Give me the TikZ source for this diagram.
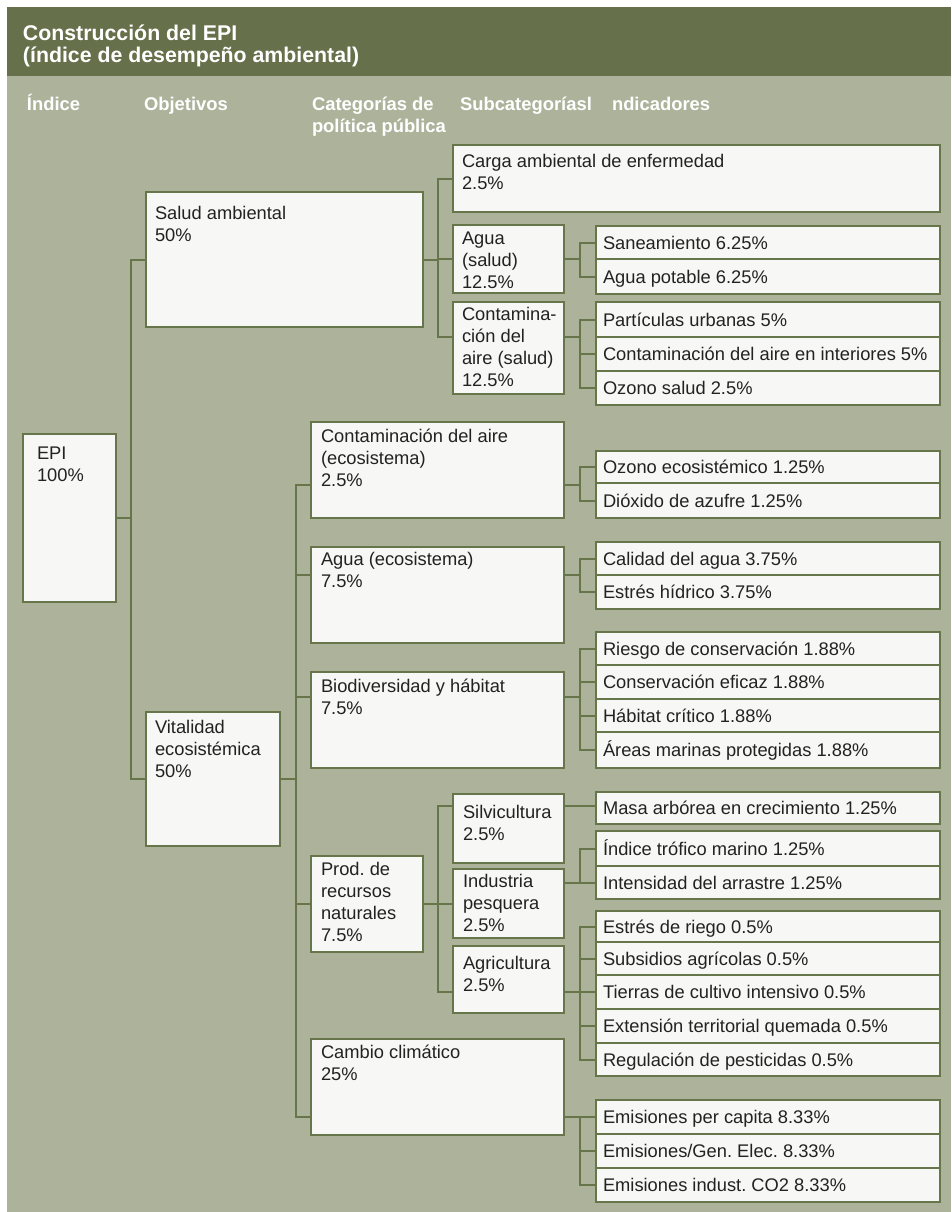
\documentclass[tikz,border=0pt]{standalone}
\usepackage{fontspec}
\setmainfont{Liberation Sans}
\usetikzlibrary{calc}
\frenchspacing

\definecolor{hdrgreen}{HTML}{66704A}
\definecolor{panel}{HTML}{ADB39B}
\definecolor{boxfill}{HTML}{F7F8F5}
\definecolor{olive}{HTML}{66764A}
\definecolor{ink}{HTML}{222222}

\tikzset{
  box/.style={draw=olive, fill=boxfill, line width=1.8pt, inner sep=0pt, outer sep=0pt},
  txt/.style={inner sep=0pt, outer sep=0pt, align=left, text=ink,
    font=\fontsize{18.3}{22}\selectfont},
  colhead/.style={inner sep=0pt, outer sep=0pt, align=left, text=white,
    font=\fontsize{18.4}{21}\selectfont\bfseries},
  titletxt/.style={inner sep=0pt, outer sep=0pt, align=left, text=white,
    font=\fontsize{21.3}{21.5}\selectfont\bfseries},
  link/.style={draw=olive, line width=2pt, line join=miter},
}

% box: name, left, top, right, bottom, text x, first baseline, text
\newcommand\tbox[8]{%
  \node[box, anchor=north west, minimum width={(#4-#2)*1pt},
        minimum height={(#5-#3)*1pt}] (#1) at (#2,#3) {};
  \node[txt, anchor=north west] (#1-t) at ({#6},{#7-18}) {\rule{0pt}{18pt}#8};}
% indicator box: name, top, bottom, text
\newcommand\ibox[4]{\tbox{#1}{596}{#2}{940}{#3}{603}{(#2+#3)/2+6.5}{#4}}
% elbow connector from a parent point to a child point
\newcommand\linkto[2]{\draw[link] (#1) -- ($(#1)!0.5!(#1 -| #2)$) |- (#2);}

\begin{document}
\begin{tikzpicture}[x=1pt, y=-1pt]
\useasboundingbox (0,0) rectangle (951,1212);
\fill[white] (0,0) rectangle (951,1212);
\fill[panel] (7,7) rectangle (951,1212);
\fill[hdrgreen] (7,7) rectangle (951,76);

% heading
\node[titletxt, anchor=north west] (title) at (23,{41-20})
  {\rule{0pt}{20pt}Construcción del EPI\\(índice de desempeño ambiental)};
\node[colhead, anchor=north west] (h-ind) at (27,{111-18}) {\rule{0pt}{18pt}Índice};
\node[colhead, anchor=north west] (h-obj) at (144,{111-18}) {\rule{0pt}{18pt}Objetivos};
\node[colhead, anchor=north west] (h-cat) at (312,{111-18}) {\rule{0pt}{18pt}Categorías de\\política pública};
\node[colhead, anchor=north west] (h-sub) at (460,{111-18}) {\rule{0pt}{18pt}Subcategoríasl};
\node[colhead, anchor=north west] (h-indc) at (612,{111-18}) {\rule{0pt}{18pt}ndicadores};

% index and objectives
\tbox{epi}{23}{434}{116}{602}{37}{459}{EPI\\100\%}
\tbox{salud}{146}{192}{423}{327}{155}{219}{Salud ambiental\\50\%}
\tbox{vital}{146}{712}{280}{846}{155}{733}{Vitalidad\\ecosistémica\\50\%}

% policy categories
\tbox{carga}{453}{145}{940}{212}{462}{167}{Carga ambiental de enfermedad\\2.5\%}
\tbox{aguasal}{453}{225}{564}{293}{462}{244}{Agua\\(salud)\\12.5\%}
\tbox{contsal}{453}{302}{564}{394}{462}{320}{Contamina-\\ción del\\aire (salud)\\12.5\%}
\tbox{contaeco}{311}{422}{564}{518}{321}{442}{Contaminación del aire\\(ecosistema)\\2.5\%}
\tbox{aguaeco}{311}{547}{564}{643}{321}{565}{Agua (ecosistema)\\7.5\%}
\tbox{biodiv}{311}{672}{564}{768}{321}{692}{Biodiversidad y hábitat\\7.5\%}
\tbox{prod}{311}{856}{423}{952}{321}{875}{Prod. de\\recursos\\naturales\\7.5\%}
\tbox{cambio}{311}{1039}{564}{1135}{321}{1058}{Cambio climático\\25\%}

% subcategories
\tbox{silv}{453}{794}{564}{863}{463}{818}{Silvicultura\\2.5\%}
\tbox{pesca}{453}{869}{564}{938}{463}{887}{Industria\\pesquera\\2.5\%}
\tbox{agri}{453}{946}{564}{1013}{463}{969}{Agricultura\\2.5\%}

% indicators
\ibox{san}{226}{259}{Saneamiento 6.25\%}
\ibox{pot}{259}{294}{Agua potable 6.25\%}
\ibox{part}{302}{337}{Partículas urbanas 5\%}
\ibox{inter}{337}{371}{Contaminación del aire en interiores 5\%}
\ibox{ozs}{371}{405}{Ozono salud 2.5\%}
\ibox{oze}{451}{483}{Ozono ecosistémico 1.25\%}
\ibox{dio}{483}{518}{Dióxido de azufre 1.25\%}
\ibox{cal}{542}{575}{Calidad del agua 3.75\%}
\ibox{est}{575}{609}{Estrés hídrico 3.75\%}
\ibox{ries}{632}{665}{Riesgo de conservación 1.88\%}
\ibox{cons}{665}{699}{Conservación eficaz 1.88\%}
\ibox{hab}{699}{732}{Hábitat crítico 1.88\%}
\ibox{area}{732}{768}{Áreas marinas protegidas 1.88\%}
\ibox{masa}{792}{824}{Masa arbórea en crecimiento 1.25\%}
\ibox{indt}{831}{866}{Índice trófico marino 1.25\%}
\ibox{arr}{866}{899}{Intensidad del arrastre 1.25\%}
\ibox{rie}{911}{942}{Estrés de riego 0.5\%}
\ibox{sub}{942}{975}{Subsidios agrícolas 0.5\%}
\ibox{tie}{975}{1009}{Tierras de cultivo intensivo 0.5\%}
\ibox{ext}{1009}{1043}{Extensión territorial quemada 0.5\%}
\ibox{reg}{1043}{1076}{Regulación de pesticidas 0.5\%}
\ibox{epc}{1100}{1134}{Emisiones per capita 8.33\%}
\ibox{gen}{1134}{1168}{Emisiones/Gen. Elec. 8.33\%}
\ibox{ind}{1168}{1202}{Emisiones indust. CO2 8.33\%}

% attachment points that sit off the box middles
\coordinate (contsal-l) at ($(contsal.north west)+(0,35)$);
\coordinate (contsal-r) at ($(contsal.north east)+(0,35)$);
\coordinate (contaeco-l) at ($(contaeco.north west)+(0,63)$);
\coordinate (contaeco-r) at ($(contaeco.north east)+(0,63)$);
\coordinate (aguaeco-l) at ($(aguaeco.north west)+(0,28)$);
\coordinate (aguaeco-r) at ($(aguaeco.north east)+(0,28)$);
\coordinate (biodiv-l) at ($(biodiv.north west)+(0,25)$);
\coordinate (biodiv-r) at ($(biodiv.north east)+(0,25)$);
\coordinate (cambio-l) at ($(cambio.north west)+(0,78)$);
\coordinate (cambio-r) at ($(cambio.north east)+(0,78)$);
\coordinate (silv-l) at ($(silv.north west)+(0,12)$);
\coordinate (silv-r) at ($(silv.north east)+(0,12)$);
\coordinate (pesca-r) at ($(pesca.north east)+(0,14)$);
\coordinate (agri-l) at ($(agri.north west)+(0,46)$);
\coordinate (agri-r) at ($(agri.north east)+(0,46)$);

% tree connectors
\linkto{epi.east}{salud.west}
\linkto{epi.east}{vital.west}
\linkto{salud.east}{carga.west}
\linkto{salud.east}{aguasal.west}
\linkto{salud.east}{contsal-l}
\linkto{vital.east}{contaeco-l}
\linkto{vital.east}{aguaeco-l}
\linkto{vital.east}{biodiv-l}
\linkto{vital.east}{prod.west}
\linkto{vital.east}{cambio-l}
\linkto{aguasal.east}{san.west}
\linkto{aguasal.east}{pot.west}
\linkto{contsal-r}{part.west}
\linkto{contsal-r}{inter.west}
\linkto{contsal-r}{ozs.west}
\linkto{contaeco-r}{oze.west}
\linkto{contaeco-r}{dio.west}
\linkto{aguaeco-r}{cal.west}
\linkto{aguaeco-r}{est.west}
\linkto{biodiv-r}{ries.west}
\linkto{biodiv-r}{cons.west}
\linkto{biodiv-r}{hab.west}
\linkto{biodiv-r}{area.west}
\linkto{prod.east}{silv-l}
\linkto{prod.east}{pesca.west}
\linkto{prod.east}{agri-l}
\draw[link] (silv-r) -- (silv-r -| masa.west);
\linkto{pesca-r}{indt.west}
\linkto{pesca-r}{arr.west}
\linkto{agri-r}{rie.west}
\linkto{agri-r}{sub.west}
\linkto{agri-r}{tie.west}
\linkto{agri-r}{ext.west}
\linkto{agri-r}{reg.west}
\linkto{cambio-r}{epc.west}
\linkto{cambio-r}{gen.west}
\linkto{cambio-r}{ind.west}
\end{tikzpicture}
\end{document}
